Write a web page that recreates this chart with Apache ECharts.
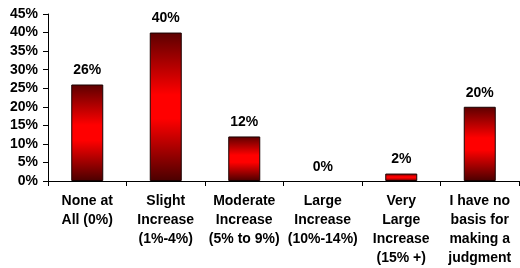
<!DOCTYPE html>
<html>
<head>
<meta charset="utf-8">
<script src="https://cdn.jsdelivr.net/npm/echarts@6/dist/echarts.min.js"></script>
<style>
  html, body { margin: 0; padding: 0; background: #fff; }
  #chart { width: 520px; height: 268px; }
</style>
</head>
<body>
<div id="chart"></div>
<script>
// categories and values
const categories = [
  "None at\nAll (0%)",
  "Slight\nIncrease\n(1%-4%)",
  "Moderate\nIncrease\n(5% to 9%)",
  "Large\nIncrease\n(10%-14%)",
  "Very\nLarge\nIncrease\n(15% +)",
  "I have no\nbasis for\nmaking a\njudgment"
];
const values = [26, 40, 12, 0, 2, 20];
const yTicks = [0, 45, 5]; // min, max, step

const chart = echarts.init(document.getElementById("chart"));
const font = "'Liberation Sans', Arial, sans-serif";

chart.setOption({
  animation: false,
  grid: {
    left: 48,
    right: 1,
    top: 14,
    bottom: 87,
    containLabel: false,
  },
  xAxis: {
    type: "category",
    data: categories,
    axisLine: { lineStyle: { color: "#000", width: 1 } },
    axisTick: { show: true, length: 5, lineStyle: { color: "#000" } },
    axisLabel: {
      interval: 0,
      color: "#000",
      fontFamily: font,
      fontWeight: "bold",
      fontSize: 14,
      lineHeight: 19,
      margin: 11,
    },
  },
  yAxis: {
    type: "value",
    min: yTicks[0],
    max: yTicks[1],
    interval: yTicks[2],
    splitLine: { show: false },
    axisLine: { show: true, lineStyle: { color: "#000", width: 1 } },
    axisTick: { show: true, length: 5, lineStyle: { color: "#000" } },
    axisLabel: {
      color: "#000",
      fontFamily: font,
      fontWeight: "bold",
      fontSize: 14,
      margin: 10,
      formatter: "{value}%",
    },
  },
  series: [
    {
      type: "bar",
      barWidth: 32,
      // no outline on an empty bar
      data: values.map(function(v) {
        return v === 0 ? { value: v, itemStyle: { borderWidth: 0 } } : v;
      }),
      itemStyle: {
        borderColor: "#1a0000",
        borderWidth: 1,
        color: new echarts.graphic.LinearGradient(0, 0, 0, 1, [
          { offset: 0, color: "#5c0000" },
          { offset: 0.42, color: "#ff0000" },
          { offset: 0.58, color: "#ff0000" },
          { offset: 1, color: "#4a0000" },
        ]),
      },
      label: {
        show: true,
        position: "top",
        distance: 7,
        color: "#000",
        fontFamily: font,
        fontWeight: "bold",
        fontSize: 14,
        formatter: "{c}%",
      },
    },
  ],
});
</script>
</body>
</html>
